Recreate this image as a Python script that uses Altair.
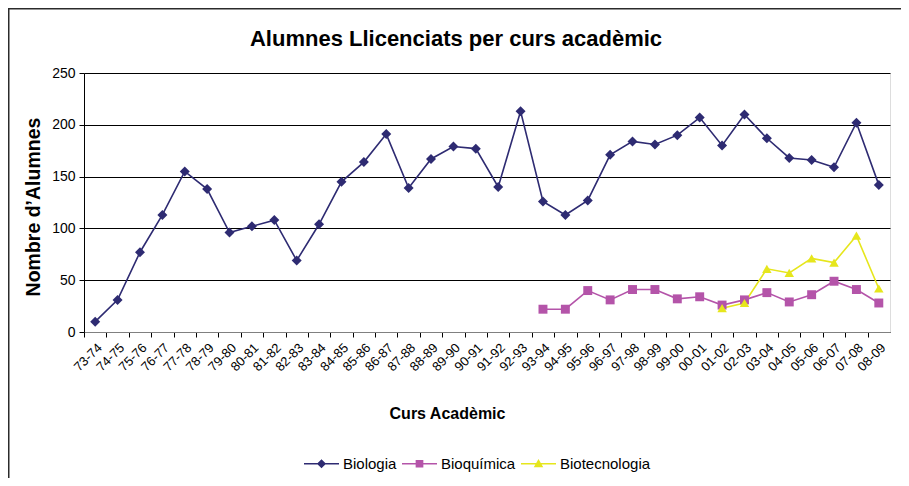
import altair as alt
import pandas as pd

cursos = ["73-74", "74-75", "75-76", "76-77", "77-78", "78-79", "79-80", "80-81",
          "81-82", "82-83", "83-84", "84-85", "85-86", "86-87", "87-88", "88-89",
          "89-90", "90-91", "91-92", "92-93", "93-94", "94-95", "95-96", "96-97",
          "97-98", "98-99", "99-00", "00-01", "01-02", "02-03", "03-04", "04-05",
          "05-06", "06-07", "07-08", "08-09"]

biologia = [10, 31, 77, 113, 155, 138, 96, 102, 108, 69, 104, 145, 164, 191, 139, 167,
            179, 177, 140, 213, 126, 113, 127, 171, 184, 181, 190, 207, 180, 210, 187, 168,
            166, 159, 202, 142]
bioquimica_cursos = cursos[20:]
bioquimica = [22, 22, 40, 31, 41, 41, 32, 34, 26, 31, 38, 29, 36, 49, 41, 28]
biotec_cursos = cursos[28:]
biotecnologia = [23, 28, 61, 57, 71, 67, 93, 42]

series = ["Biologia", "Bioquímica", "Biotecnologia"]
colors = ["#2e2b72", "#b454a9", "#e6e61c"]
legend_paths = [
    "M-1,-0.045H1V0.045H-1Z M0,-0.26L0.26,0L0,0.26L-0.26,0Z",
    "M-1,-0.045H1V0.045H-1Z M-0.22,-0.22H0.22V0.22H-0.22Z",
    "M-1,-0.045H1V0.045H-1Z M0,-0.27L0.27,0.2H-0.27Z",
]
point_shapes = ["diamond", "square", "triangle-up"]
point_sizes = [100, 80, 90]

rows = []
for c, v in zip(cursos, biologia):
    rows.append({"curs": c, "serie": "Biologia", "valor": v})
for c, v in zip(bioquimica_cursos, bioquimica):
    rows.append({"curs": c, "serie": "Bioquímica", "valor": v})
for c, v in zip(biotec_cursos, biotecnologia):
    rows.append({"curs": c, "serie": "Biotecnologia", "valor": v})
df = pd.DataFrame(rows)

W, H = 806, 259
step = W / len(cursos)

x_enc = alt.X(
    "curs:O", sort=cursos,
    axis=alt.Axis(
        title="Curs Acadèmic", labelAngle=-45, labelFont="Liberation Sans",
        labelFontSize=13, labelColor="#000000", tickColor="#000000",
        domainColor="#808080", tickSize=5, tickOffset=-step / 2,
        labelOffset=step / 2, labelPadding=4,
        titleFont="Liberation Sans", titleFontSize=16, titleFontWeight="bold",
        titleColor="#000000", titleX=363, titleY=81, titleBaseline="middle",
        titleAnchor="middle"
    ),
)
y_enc = alt.Y(
    "valor:Q", scale=alt.Scale(domain=[0, 250], nice=False),
    axis=alt.Axis(
        title="Nombre d’Alumnes", values=[0, 50, 100, 150, 200, 250],
        labelFont="Liberation Sans", labelFontSize=14, labelColor="#000000",
        grid=True, gridColor="#000000", gridWidth=1, gridOpacity=1,
        domainColor="#000000", tickColor="#000000", tickSize=5, labelPadding=4,
        titleFont="Liberation Sans", titleFontSize=19.5, titleFontWeight="bold",
        titleColor="#000000", titleX=-51, titleY=H / 2 + 4, titleBaseline="middle"
    ),
)
color_scale = alt.Scale(domain=series, range=colors)
legend_def = alt.Legend(
    title=None, orient="none", direction="horizontal",
    legendX=220, legendY=373, labelFont="Liberation Sans",
    labelFontSize=15, labelColor="#000000", symbolSize=1225,
    columnPadding=5, labelOffset=4, symbolStrokeWidth=0,
)
color_enc = alt.Color("serie:N", scale=color_scale, legend=legend_def)

base = alt.Chart(df)

frame = alt.Chart(pd.DataFrame({"k": [0]})).mark_rect(
    filled=False, stroke="#2b2b2b", strokeWidth=1.5, fill="transparent"
).encode(
    x=alt.value(-75.25), x2=alt.value(900), y=alt.value(-64.25), y2=alt.value(500)
)

legend_layer = base.transform_filter("false").mark_point(
    filled=True, size=1225, opacity=1
).encode(
    x=x_enc, y=y_enc,
    color=color_enc,
    shape=alt.Shape(
        "serie:N", scale=alt.Scale(domain=series, range=legend_paths),
        legend=legend_def,
    ),
)

lines = base.mark_line(strokeWidth=1.6).encode(
    x=x_enc, y=y_enc, color=color_enc, detail="serie:N",
)

point_layers = []
for s, shp, sz in zip(series, point_shapes, point_sizes):
    point_layers.append(
        base.transform_filter(alt.datum.serie == s).mark_point(
            filled=True, shape=shp, size=sz, opacity=1
        ).encode(x=x_enc, y=y_enc, color=color_enc)
    )

chart = alt.layer(frame, legend_layer, lines, *point_layers).properties(
    width=W, height=H,
    title=alt.TitleParams(
        "Alumnes Llicenciats per curs acadèmic", font="Liberation Sans",
        fontSize=22, fontWeight="bold", color="#000000", anchor="middle",
        frame="group", dx=-31, dy=60, offset=0, baseline="alphabetic"
    ),
    autosize=alt.AutoSizeParams(type="none"),
    padding={"left": 76, "top": 65, "right": 11, "bottom": 146},
).configure_view(
    fill="#b4b5b9", stroke="#808080", strokeWidth=1
).configure(background="#ffffff")

chart.save("out.html", embed_options={"renderer": "svg", "actions": False})
